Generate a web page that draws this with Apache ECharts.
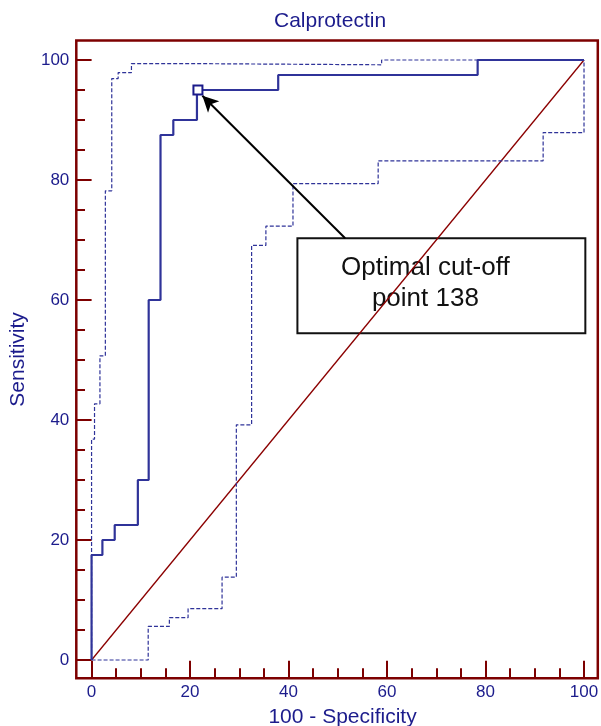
<!DOCTYPE html>
<html>
<head>
<meta charset="utf-8">
<script src="https://cdn.jsdelivr.net/npm/echarts@6/dist/echarts.min.js"></script>
<style>html,body{margin:0;padding:0;background:#fff;}#c{width:601px;height:726px;}</style>
</head>
<body>
<div id="c"></div>
<script>
// ---- data ----
const chartTitle = 'Calprotectin';
const xTitle = '100 - Specificity';
const yTitle = 'Sensitivity';
const majorTicks = [0, 20, 40, 60, 80, 100];
const minorTicks = [0,5,10,15,20,25,30,35,40,45,50,55,60,65,70,75,80,85,90,95,100];
// ROC curve corners [100-specificity, sensitivity]
const rocCurve = [[0,0],[0,17.5],[2.2,17.5],[2.2,20],[4.7,20],[4.7,22.5],[9.4,22.5],[9.4,30],[11.6,30],[11.6,60],[14,60],[14,87.5],[16.6,87.5],[16.6,90],[21.4,90],[21.4,95],[37.9,95],[37.9,97.5],[78.4,97.5],[78.4,100],[100,100]];
const upperCI = [[0,0],[0,36.8],[0.6,36.8],[0.6,42.7],[1.7,42.7],[1.7,50.7],[2.8,50.7],[2.8,78.2],[4.1,78.2],[4.1,96.9],[5.4,96.9],[5.4,97.9],[8.1,97.9],[8.1,99.4],[20.3,99.4],[20.3,99.2],[58.9,99.2],[58.9,100],[100,100]];
const lowerCI = [[0,0],[11.5,0],[11.5,5.6],[15.8,5.6],[15.8,7.05],[19.6,7.05],[19.6,8.55],[26.5,8.55],[26.5,13.8],[29.4,13.8],[29.4,39.2],[32.5,39.2],[32.5,69.1],[35.4,69.1],[35.4,72.3],[40.9,72.3],[40.9,79.4],[58.2,79.4],[58.2,83.2],[91.7,83.2],[91.7,87.9],[100,87.9],[100,100]];
const diagonal = [[0,0],[100,100]];
const cutoffPoint = [[21.6, 95]];
const annotationText = 'Optimal cut-off\npoint 138';
const annotationBox = [[41.8, 70.3], [100.27, 54.45]];
const arrowFrom = [51.5, 70.3];
const arrowTo = [22.5, 94.05];

const NAVY = '#1c1c8c';
const LINE = '#2f3399';
const RED = '#7d0000';
const FONT = 'Liberation Sans, Arial, Helvetica, sans-serif';

const chart = echarts.init(document.getElementById('c'), null, {renderer: 'canvas'});

function axisPair(dim) {
  const isX = dim === 'x';
  const range = isX ? {min: -3.1, max: 102.8} : {min: -3.05, max: 103.25};
  const base = {
    type: 'value', min: range.min, max: range.max,
    position: isX ? 'bottom' : 'left',
    splitLine: {show: false}, axisLine: {show: false, onZero: false}
  };
  return [
    Object.assign({}, base, {
      axisTick: {show: true, inside: true, length: isX ? 10 : 8.7, customValues: minorTicks,
        lineStyle: {color: RED, width: 2}},
      axisLabel: {show: false}
    }),
    Object.assign({}, base, {
      axisTick: {show: true, inside: true, length: isX ? 17.5 : 15.3, customValues: majorTicks,
        lineStyle: {color: RED, width: 2}},
      axisLabel: {show: true, customValues: majorTicks, color: NAVY, fontSize: 17,
        fontFamily: FONT, margin: isX ? 6 : 7},
      name: isX ? xTitle : yTitle,
      nameLocation: 'middle',
      nameGap: isX ? 28 : 48,
      nameTextStyle: {color: NAVY, fontSize: 21, fontFamily: FONT,
        padding: isX ? [0, 0, 0, 11] : [0, 0, 0, 0]}
    })
  ];
}

chart.setOption({
  animation: false,
  backgroundColor: '#fff',
  title: {
    text: chartTitle, left: 274, top: 11, padding: 0,
    textStyle: {color: NAVY, fontSize: 21, fontWeight: 'normal', fontFamily: FONT}
  },
  grid: {left: 76.3, right: 3.2, top: 40.5, bottom: 47.7, show: true,
    outerBoundsMode: 'none', containLabel: false,
    borderColor: RED, borderWidth: 2.5, backgroundColor: 'transparent'},
  xAxis: axisPair('x'),
  yAxis: axisPair('y'),
  series: [
    {type: 'line', data: diagonal, symbol: 'none', z: 2,
      lineStyle: {color: '#8b0000', width: 1.3}},
    {type: 'line', data: upperCI, symbol: 'none', z: 3,
      lineStyle: {color: LINE, width: 1.2, type: [4, 2]}},
    {type: 'line', data: lowerCI, symbol: 'none', z: 3,
      lineStyle: {color: LINE, width: 1.2, type: [4, 2]}},
    {type: 'line', data: rocCurve, symbol: 'none', z: 4,
      lineStyle: {color: LINE, width: 2.2}},
    {type: 'scatter', data: cutoffPoint, symbol: 'rect', symbolSize: 9, z: 10,
      itemStyle: {color: '#fff', borderColor: '#1a1a8a', borderWidth: 2, opacity: 1},
      markArea: {
        silent: true,
        itemStyle: {color: '#fff', borderColor: '#111', borderWidth: 2, opacity: 1},
        label: {show: true, position: 'inside', color: '#111', fontSize: 26,
          lineHeight: 31.7, fontFamily: FONT, offset: [-16, -2.5], align: 'center'},
        data: [[{coord: annotationBox[0], name: annotationText}, {coord: annotationBox[1]}]]
      },
      markLine: {
        silent: true,
        symbol: ['none', 'arrow'], symbolSize: [12, 16],
        lineStyle: {color: '#000', width: 2, type: 'solid'},
        label: {show: false},
        data: [[{coord: arrowFrom}, {coord: arrowTo}]]
      }
    }
  ]
});
</script>
</body>
</html>
